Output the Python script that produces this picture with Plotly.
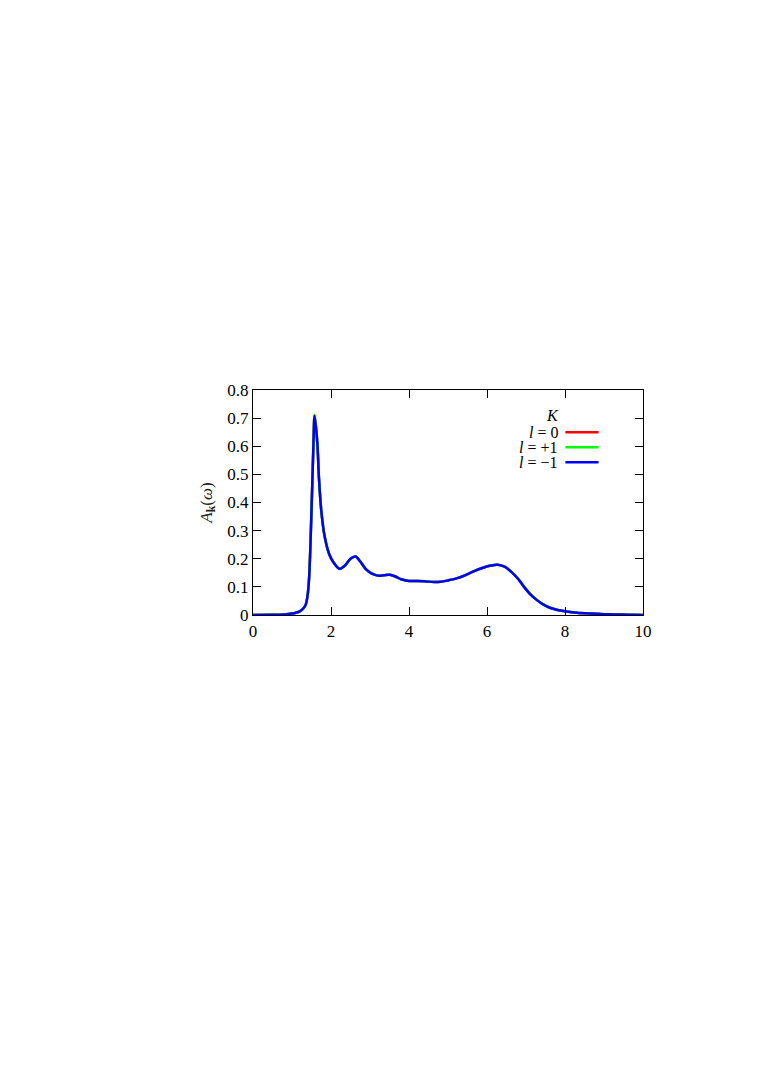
import plotly.graph_objects as go

# omega values and spectral function A_k(omega)
omega = [0, 0.5, 0.8, 1.0, 1.1, 1.2, 1.3, 1.35, 1.4, 1.44, 1.5, 1.55, 1.58,
         1.65, 1.69, 1.75, 1.84, 1.95, 2.05, 2.22, 2.35, 2.5, 2.63,
         2.75, 2.9, 3.05, 3.2, 3.35, 3.5, 3.65, 3.8, 4.0, 4.2, 4.4, 4.64,
         4.81, 5.0, 5.24, 5.45, 5.67, 5.9, 6.1, 6.27, 6.45, 6.61, 6.8, 6.95,
         7.1, 7.29, 7.45, 7.63, 8.0, 8.3, 8.66, 9.0, 9.25, 9.6, 10.0]

a_l0 = [0.0, 0.0005, 0.002, 0.005, 0.008, 0.013, 0.025, 0.036, 0.07, 0.135,
        0.37, 0.61, 0.711, 0.61, 0.49, 0.372, 0.277, 0.218, 0.19,
        0.164, 0.175, 0.2, 0.208, 0.19, 0.162, 0.147, 0.14, 0.141, 0.143,
        0.137, 0.127, 0.121, 0.121, 0.12, 0.117, 0.118, 0.123, 0.131, 0.142,
        0.156, 0.168, 0.176, 0.179, 0.172, 0.155, 0.128, 0.1, 0.075, 0.052,
        0.037, 0.025, 0.013, 0.008, 0.005, 0.003, 0.002, 0.001, 0.0]

a_lp1 = [0.0, 0.0005, 0.002, 0.005, 0.008, 0.013, 0.025, 0.036, 0.07, 0.135,
         0.37, 0.61, 0.710, 0.61, 0.49, 0.372, 0.277, 0.218, 0.19,
         0.164, 0.175, 0.2, 0.208, 0.19, 0.162, 0.147, 0.14, 0.141, 0.143,
         0.137, 0.127, 0.121, 0.121, 0.12, 0.117, 0.118, 0.123, 0.131, 0.142,
         0.156, 0.168, 0.176, 0.179, 0.172, 0.155, 0.128, 0.1, 0.075, 0.052,
         0.037, 0.025, 0.013, 0.008, 0.005, 0.003, 0.002, 0.001, 0.0]

a_lm1 = [0.0, 0.0005, 0.002, 0.005, 0.008, 0.013, 0.025, 0.036, 0.07, 0.135,
         0.37, 0.61, 0.708, 0.61, 0.49, 0.372, 0.277, 0.218, 0.19,
         0.164, 0.175, 0.2, 0.208, 0.19, 0.162, 0.147, 0.14, 0.141, 0.143,
         0.137, 0.127, 0.121, 0.121, 0.12, 0.117, 0.118, 0.123, 0.131, 0.142,
         0.156, 0.168, 0.176, 0.179, 0.172, 0.155, 0.128, 0.1, 0.075, 0.052,
         0.037, 0.025, 0.013, 0.008, 0.005, 0.003, 0.002, 0.001, 0.0]

series_names = ["<i>l</i> = 0", "<i>l</i> = +1", "<i>l</i> = \u22121"]
series_colors = ["#ff0000", "#00ff00", "#0000ff"]
x_ticks = [0, 2, 4, 6, 8, 10]
y_ticks = [0, 0.1, 0.2, 0.3, 0.4, 0.5, 0.6, 0.7, 0.8]

font = "Liberation Serif, Times New Roman, serif"

fig = go.Figure()
for name, color, vals in zip(series_names, series_colors, [a_l0, a_lp1, a_lm1]):
    fig.add_trace(go.Scatter(
        x=omega, y=vals, name=name, mode="lines",
        line=dict(color=color, width=2.5, shape="spline", smoothing=0.9),
        showlegend=False,
    ))

axis_style = dict(
    showgrid=False, zeroline=False, showline=True, linecolor="black",
    linewidth=1.2, mirror="ticks", ticks="inside", ticklen=8,
    tickcolor="black", tickwidth=1.2,
    tickfont=dict(family=font, size=17, color="black"),
)

fig.update_xaxes(range=[0, 10], tickvals=x_ticks, ticktext=[str(t) for t in x_ticks],
                 **axis_style)
fig.update_yaxes(range=[0, 0.8], tickvals=y_ticks, ticktext=[f"{t:g}" for t in y_ticks],
                 title=dict(text="<i>A</i><sub><b>k</b></sub>(<i>\u03c9</i>)",
                            font=dict(family=font, size=17, color="#222"), standoff=10),
                 **axis_style)

# hand-drawn legend: title, labels on the left, line samples on the right
fig.add_annotation(x=0.788, y=0.886, xref="paper", yref="paper", text="<i>K</i>",
                   showarrow=False, yanchor="middle", borderpad=0,
                   font=dict(family=font, size=16, color="black"))
row_y = [0.812, 0.746, 0.679]
for name, color, yy in zip(series_names, series_colors, row_y):
    fig.add_annotation(x=0.784, y=yy, xref="paper", yref="paper", text=name,
                       showarrow=False, xanchor="right", yanchor="middle", borderpad=0,
                       font=dict(family=font, size=16, color="black"))
    fig.add_shape(type="line", xref="paper", yref="paper", x0=0.801, x1=0.886,
                  y0=yy, y1=yy, line=dict(color=color, width=2.5))

fig.update_layout(
    width=763, height=1078,
    margin=dict(l=245, r=128, t=382, b=471),
    plot_bgcolor="white", paper_bgcolor="white",
    font=dict(family=font, color="black"),
)

fig.write_html("out.html")
